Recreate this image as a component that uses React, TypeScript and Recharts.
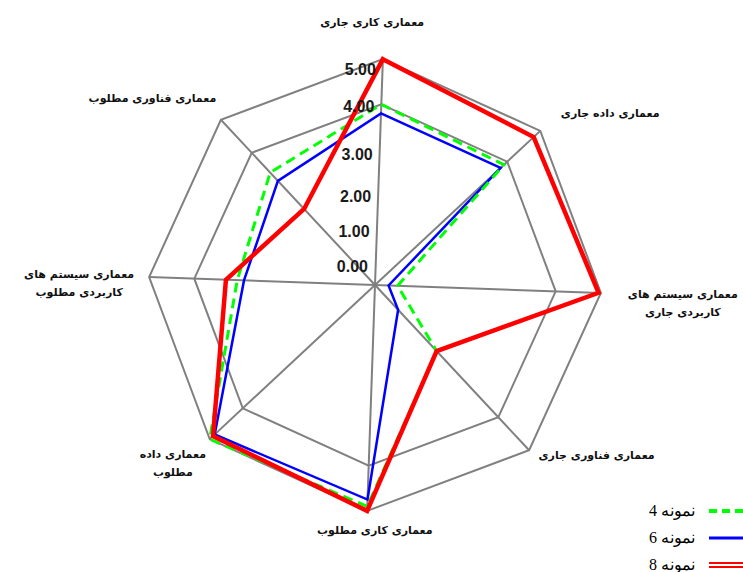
import { RadarChart, PolarGrid, PolarAngleAxis, PolarRadiusAxis, Radar, Legend } from 'recharts';

// axis names, clockwise from the top
const categories = [
  'معماری کاری جاری',
  'معماری داده جاری',
  'معماری سیستم های\nکاربردی جاری',
  'معماری فناوری جاری',
  'معماری کاری مطلوب',
  'معماری داده\nمطلوب',
  'معماری سیستم های\nکاربردی مطلوب',
  'معماری فناوری مطلوب',
];
const sample4 = [4.0, 3.9, 0.5, 2.0, 4.9, 5.0, 3.05, 3.4];
const sample6 = [3.8, 3.8, 0.3, 0.75, 4.75, 4.85, 2.9, 3.15];
const sample8 = [5.0, 4.8, 4.95, 2.0, 5.0, 4.9, 3.3, 2.3];
const radiusTicks = [0, 1, 2, 3, 4, 5];
const gridRings = [4, 5];
const seriesNames = ['نمونه 4', 'نمونه 6', 'نمونه 8'];

const W = 743;
const H = 572;
const CX = 375;
const CY = 285;
const R = 226;
const MAX = 5;

// label placement tweaks (style only)
const labelShift = [
  { dx: -11, dy: -29 },
  { dx: 64, dy: -12 },
  { dx: 74, dy: 1 },
  { dx: 62, dy: -1 },
  { dx: 8, dy: 11 },
  { dx: -31, dy: 9 },
  { dx: -62, dy: -3 },
  { dx: -63, dy: -16 },
];
const radiusLabelShift = [-19, -8, 2, 5, 2, 10];

const series = [
  { key: 's6', name: seriesNames[1], color: '#0000FF', width: 2.5, dash: undefined },
  { key: 's4', name: seriesNames[0], color: '#00FF00', width: 3, dash: '10 6' },
  { key: 's8', name: seriesNames[2], color: '#FF0000', width: 4.5, dash: undefined },
];

const data = categories.map((axis, i) => ({
  axis,
  s4: sample4[i],
  s6: sample6[i],
  s8: sample8[i],
}));

function AngleTick(props: any) {
  const { x, y, payload, index } = props;
  const s = labelShift[index] || { dx: 0, dy: 0 };
  const lines = String(payload.value).split('\n');
  return (
    <text
      x={x + s.dx}
      y={y + s.dy}
      textAnchor="middle"
      dominantBaseline="central"
      fontFamily="'DejaVu Sans', sans-serif"
      fontWeight="bold"
      fontSize={11}
      fill="#111"
    >
      {lines.map((l, k) => (
        <tspan key={k} x={x + s.dx} dy={k === 0 ? 0 : 18}>
          {l}
        </tspan>
      ))}
    </text>
  );
}

function RadiusTick(props: any) {
  const { x, y, payload, index } = props;
  return (
    <text
      x={x - 7}
      y={y + (radiusLabelShift[index] || 0)}
      textAnchor="end"
      dominantBaseline="central"
      fontFamily="'Liberation Sans', Arial, sans-serif"
      fontWeight="bold"
      fontSize={16}
      fill="#1a1a1a"
    >
      {Number(payload.value).toFixed(2)}
    </text>
  );
}

function LegendBox() {
  const order = [series[1], series[0], series[2]];
  return (
    <div style={{ width: 110 }}>
      {order.map((s) => (
        <div key={s.key} style={{ display: 'flex', alignItems: 'center', height: 27 }}>
          <span
            dir="rtl"
            style={{
              width: 55,
              textAlign: 'right',
              fontFamily: "'Liberation Serif', 'DejaVu Serif', serif",
              fontSize: 16,
              color: '#000',
            }}
          >
            {s.name}
          </span>
          <svg width={40} height={10} style={{ marginLeft: 14 }}>
            {s.key === 's8' ? (
              <>
                <line x1={0} y1={3} x2={40} y2={3} stroke={s.color} strokeWidth={2} />
                <line x1={0} y1={7} x2={40} y2={7} stroke={s.color} strokeWidth={2} />
              </>
            ) : (
              <line
                x1={0}
                y1={5}
                x2={40}
                y2={5}
                stroke={s.color}
                strokeWidth={s.key === 's4' ? 4 : 3}
                strokeDasharray={s.key === 's4' ? '8 5' : undefined}
              />
            )}
          </svg>
        </div>
      ))}
    </div>
  );
}

export default function App() {
  return (
    <div style={{ position: 'absolute', left: 0, top: 0, width: W, height: H, background: '#fff' }}>
      <RadarChart
        width={W}
        height={H}
        data={data}
        cx={CX}
        cy={CY}
        outerRadius={R}
        startAngle={88}
        endAngle={-272}
        margin={{ top: 0, right: 0, bottom: 0, left: 0 }}
      >
        <PolarGrid
          gridType="polygon"
          polarRadius={gridRings.map((v) => (v / MAX) * R)}
          stroke="#808080"
          strokeWidth={2}
        />
        <PolarAngleAxis dataKey="axis" tick={<AngleTick />} tickLine={false} axisLine={false} />
        <PolarRadiusAxis
          angle={88}
          domain={[0, MAX]}
          ticks={radiusTicks as any}
          tickCount={radiusTicks.length}
          axisLine={false}
          tickLine={false}
          tick={<RadiusTick />}
        />
        {series.map((s) => (
          <Radar
            key={s.key}
            name={s.name}
            dataKey={s.key}
            stroke={s.color}
            strokeWidth={s.width}
            strokeDasharray={s.dash}
            fill="none"
            fillOpacity={0}
            dot={false}
            isAnimationActive={false}
          />
        ))}
        <Legend
          content={<LegendBox />}
          wrapperStyle={{ position: 'absolute', left: 640, top: 497, width: 110 }}
        />
      </RadarChart>
    </div>
  );
}
